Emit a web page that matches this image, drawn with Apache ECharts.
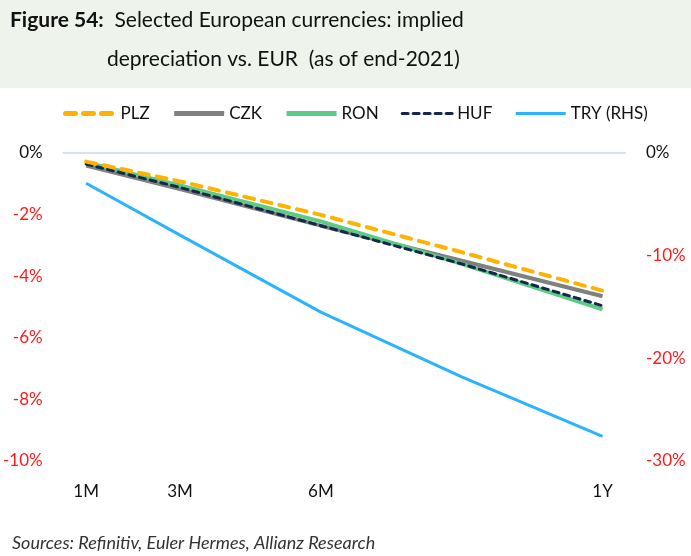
<!DOCTYPE html>
<html>
<head>
<meta charset="utf-8">
<script src="https://cdn.jsdelivr.net/npm/echarts@6/dist/echarts.min.js"></script>
<style>
html,body{margin:0;padding:0;background:#fff;}
#chart{width:691px;height:556px;}
</style>
</head>
<body>
<div id="chart"></div>
<script>
// Horizon in months for each observation
var horizons = [1, 3, 6, 9, 12];
// Tick positions and their labels on the horizon axis
var xTickValues = [1, 3, 6, 12];
var xTickLabels = ['1M', '3M', '6M', '1Y'];

// Implied depreciation vs. EUR, in %
var plz = [-0.28, -0.92, -2.01, -3.22, -4.47];
var czk = [-0.41, -1.17, -2.36, -3.50, -4.65];
var ron = [-0.31, -1.05, -2.22, -3.60, -5.08];
var huf = [-0.36, -1.12, -2.36, -3.60, -4.96];
var tryRhs = [-2.95, -8.0, -15.5, -21.8, -27.6];

var FONT = 'Lato, "Open Sans", sans-serif';

function pairs(vals) {
  return horizons.map(function (h, i) { return [h, vals[i]]; });
}

function pctLabel(v) {
  return v === 0 ? '{z|0%}' : '{n|' + v + '%}';
}
var pctRich = {
  z: { color: '#111', fontSize: 17, fontFamily: FONT },
  n: { color: '#ff1a1a', fontSize: 17, fontFamily: FONT }
};

var chart = echarts.init(document.getElementById('chart'), null, { renderer: 'canvas' });

chart.setOption({
  animation: false,
  backgroundColor: '#ffffff',
  graphic: [
    { type: 'rect', left: 0, top: 0, shape: { width: 691, height: 88 }, style: { fill: '#eef4ec' }, z: -1 },
    {
      type: 'text', left: 10, top: 10,
      style: {
        text: '{b|Figure 54:}{t|  Selected European currencies: implied}',
        rich: {
          b: { fontFamily: FONT, fontSize: 21, fontWeight: 'bold', fill: '#111' },
          t: { fontFamily: FONT, fontSize: 21, fill: '#111' }
        }
      }
    },
    {
      type: 'text', left: 107, top: 49,
      style: { text: 'depreciation vs. EUR  (as of end-2021)', fontFamily: FONT, fontSize: 21, fill: '#111' }
    },
    {
      type: 'text', left: 12, top: 534,
      style: { text: 'Sources: Refinitiv, Euler Hermes, Allianz Research', fontFamily: FONT, fontSize: 18, fontStyle: 'italic', fill: '#333' }
    }
  ],
  legend: {
    top: 100, left: 58,
    itemWidth: 50, itemHeight: 14, itemGap: 22,
    itemStyle: { opacity: 0 },
    textStyle: { fontFamily: FONT, fontSize: 17, color: '#111' },
    data: [
      { name: 'PLZ', lineStyle: { width: 5 } },
      { name: 'CZK', lineStyle: { width: 5 } },
      { name: 'RON', lineStyle: { width: 5 } },
      { name: 'HUF', lineStyle: { width: 3 } },
      { name: 'TRY (RHS)', lineStyle: { width: 3 } }
    ]
  },
  grid: { left: 61, right: 65, top: 153, bottom: 95 },
  xAxis: {
    type: 'value', min: 0.5, max: 12.5,
    splitLine: { show: false },
    axisLine: { show: false },
    axisTick: { show: false },
    axisLabel: {
      customValues: xTickValues,
      margin: 22,
      fontFamily: FONT, fontSize: 17, color: '#111',
      formatter: function (v) {
        var i = xTickValues.indexOf(v);
        return i >= 0 ? xTickLabels[i] : '';
      }
    }
  },
  yAxis: [
    {
      type: 'value', min: -10, max: 0, interval: 2,
      splitLine: { show: false }, axisLine: { show: false }, axisTick: { show: false },
      axisLabel: { margin: 20, formatter: pctLabel, rich: pctRich }
    },
    {
      type: 'value', min: -30, max: 0, interval: 10, position: 'right',
      splitLine: { show: false }, axisLine: { show: false }, axisTick: { show: false },
      axisLabel: { margin: 20, formatter: pctLabel, rich: pctRich }
    }
  ],
  series: [
    {
      name: 'PLZ', type: 'line', data: pairs(plz), symbol: 'none', z: 5,
      lineStyle: { color: '#ffb300', width: 4, type: [10, 8], cap: 'round' },
      itemStyle: { color: '#ffb300' },
      markLine: {
        silent: true, symbol: 'none', label: { show: false },
        lineStyle: { color: '#d3e3f7', width: 2, type: 'solid' },
        data: [{ yAxis: 0 }]
      }
    },
    {
      name: 'CZK', type: 'line', data: pairs(czk), symbol: 'none', z: 2,
      lineStyle: { color: '#808080', width: 4 }, itemStyle: { color: '#808080' }
    },
    {
      name: 'RON', type: 'line', data: pairs(ron), symbol: 'none', z: 3,
      lineStyle: { color: '#5ccb84', width: 4 }, itemStyle: { color: '#5ccb84' }
    },
    {
      name: 'HUF', type: 'line', data: pairs(huf), symbol: 'none', z: 4,
      lineStyle: { color: '#14284b', width: 3, type: [6, 5], cap: 'round' }, itemStyle: { color: '#14284b' }
    },
    {
      name: 'TRY (RHS)', type: 'line', yAxisIndex: 1, data: pairs(tryRhs), symbol: 'none', z: 4,
      lineStyle: { color: '#2bb3ff', width: 3 }, itemStyle: { color: '#2bb3ff' }
    }
  ]
});
</script>
</body>
</html>
